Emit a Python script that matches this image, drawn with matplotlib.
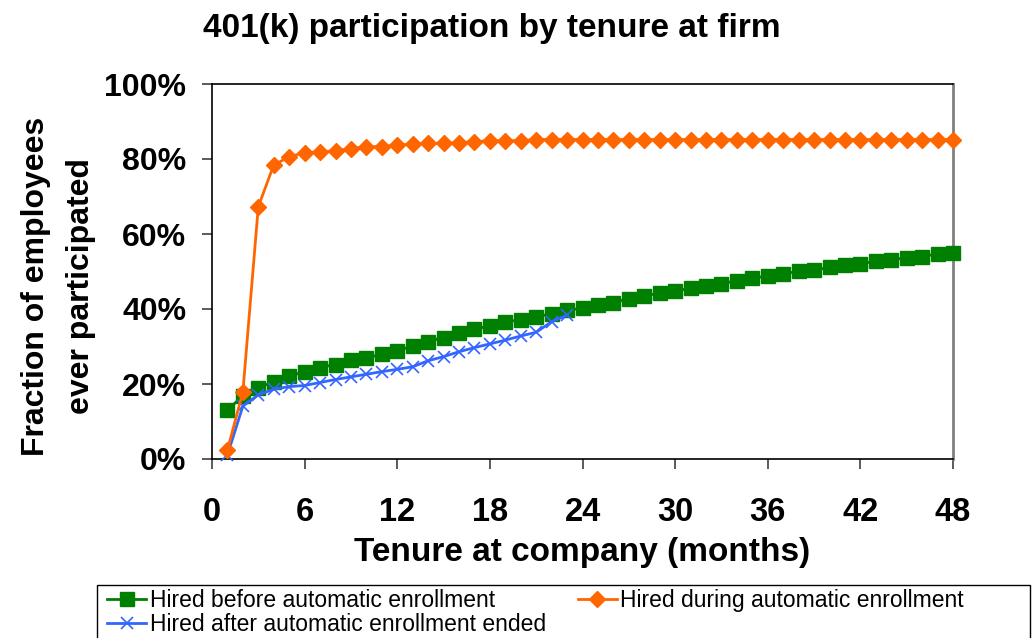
import matplotlib
matplotlib.use("Agg")
import matplotlib.pyplot as plt
from matplotlib.ticker import FuncFormatter
from matplotlib.patches import Rectangle

plt.rcParams['font.family'] = ['Liberation Sans', 'DejaVu Sans']

months = list(range(1, 49))
hired_before = [13.1, 16.8, 19.0, 20.6, 22.1, 23.3, 24.4, 25.2, 26.4, 27.0,
                27.9, 28.9, 30.1, 31.3, 32.4, 33.5, 34.6, 35.5, 36.6, 37.1,
                37.8, 38.8, 39.7, 40.2, 41.2, 41.7, 42.8, 43.5, 44.2, 44.8,
                45.5, 46.1, 46.8, 47.5, 48.2, 48.8, 49.3, 50.1, 50.4, 51.1,
                51.7, 52.0, 52.8, 53.1, 53.7, 54.0, 54.7, 55.0]
hired_during = [2.4, 17.9, 67.3, 78.4, 80.6, 81.7, 81.9, 82.2, 82.8, 83.3,
                83.3, 83.7, 84.0, 84.2, 84.2, 84.4, 84.6, 84.9, 84.9, 84.9,
                85.2, 85.2, 85.2, 85.2, 85.2, 85.2, 85.2, 85.2, 85.2, 85.2,
                85.2, 85.2, 85.2, 85.2, 85.2, 85.2, 85.2, 85.2, 85.2, 85.2,
                85.2, 85.2, 85.2, 85.2, 85.2, 85.2, 85.2, 85.2]
months_after = list(range(1, 24))
hired_after = [1.1, 14.1, 17.1, 18.6, 19.3, 19.6, 20.4, 21.2, 21.9, 22.6,
               23.3, 23.9, 24.6, 26.2, 27.3, 28.6, 29.7, 30.7, 31.7, 32.8,
               33.8, 36.6, 38.4]

x_ticks = [0, 6, 12, 18, 24, 30, 36, 42, 48]
y_ticks = [0, 20, 40, 60, 80, 100]

labels = ["Hired before automatic enrollment",
          "Hired during automatic enrollment",
          "Hired after automatic enrollment ended"]

fig = plt.figure(figsize=(10.36, 6.38), dpi=100)
ax = fig.add_axes([212/1036, 1 - 459/638, (953-212)/1036, (459-84)/638])

l_before, = ax.plot(months, hired_before, color='#008000', lw=2, marker='s',
                    markersize=9.5, markerfacecolor='#008000', markeredgecolor='#008000',
                    clip_on=False, zorder=3)
l_after, = ax.plot(months_after, hired_after, color='#3366FF', lw=2, marker='x',
                   markersize=8.5, markeredgewidth=1.2, clip_on=False, zorder=4)
l_during, = ax.plot(months, hired_during, color='#FF6600', lw=2, marker='D',
                    markersize=8, markerfacecolor='#FF6600', markeredgecolor='#FF6600',
                    clip_on=False, zorder=5)

ax.set_xlim(0, 48)
ax.set_ylim(0, 100)
ax.set_xticks(x_ticks)
ax.set_yticks(y_ticks)
ax.yaxis.set_major_formatter(FuncFormatter(lambda v, p: f"{int(v)}%"))
ax.tick_params(axis='both', direction='out', length=7.5, width=1.2, colors='#404040',
               labelcolor='black')
ax.tick_params(axis='x', pad=20)
ax.tick_params(axis='y', pad=11)
for lab in ax.get_xticklabels():
    lab.set_fontsize(23.5)
    lab.set_fontweight('bold')
for lab in ax.get_yticklabels():
    lab.set_fontsize(23)
    lab.set_fontweight('bold')

for s in ['left', 'bottom', 'top']:
    ax.spines[s].set_color('black')
    ax.spines[s].set_linewidth(1.2)
ax.spines['right'].set_color('#808080')
ax.spines['right'].set_linewidth(2)

ax.set_xlabel("Tenure at company (months)", fontsize=24, fontweight='bold', labelpad=6)
ax.set_ylabel("Fraction of employees\never participated", fontsize=23,
              fontweight='bold', linespacing=1.65)
ax.yaxis.set_label_coords((96 - 212) / (953 - 212), (459 - 286) / (459 - 84))

fig.text(492/1036, 1 - 28/638, "401(k) participation by tenure at firm",
         ha='center', va='center', fontsize=24, fontweight='bold')

fig.patches.append(Rectangle((97/1036, -0.01), (1030-97)/1036, (638-585)/638 + 0.01,
                             transform=fig.transFigure, facecolor='white',
                             edgecolor='black', linewidth=1.0, zorder=0))
leg = fig.legend([l_before, l_after, l_during], [labels[0], labels[2], labels[1]],
                 ncol=2, loc='upper left',
                 bbox_to_anchor=(105/1036, 1 - 587/638),
                 frameon=False, fontsize=16.5,
                 borderpad=0.1, labelspacing=0.05, handlelength=1.7,
                 handletextpad=0.15, columnspacing=1.4, borderaxespad=0)

fig.savefig("out.png", dpi=100)
